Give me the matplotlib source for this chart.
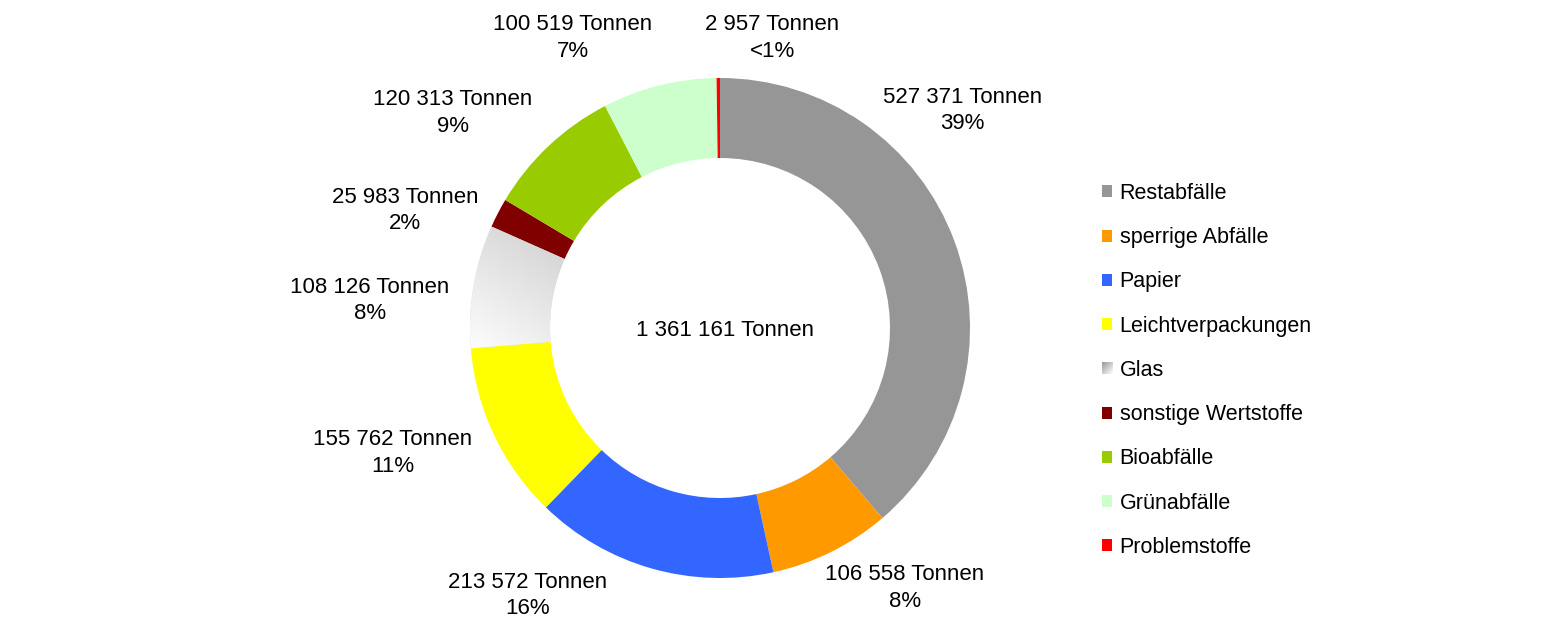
import numpy as np
import matplotlib
matplotlib.use('Agg')
import matplotlib.pyplot as plt
from matplotlib.legend_handler import HandlerBase
from matplotlib.image import BboxImage
from matplotlib.transforms import Bbox, TransformedBbox

kategorien = ['Restabfälle', 'sperrige Abfälle', 'Papier', 'Leichtverpackungen', 'Glas',
              'sonstige Wertstoffe', 'Bioabfälle', 'Grünabfälle', 'Problemstoffe']
tonnen = [527371, 106558, 213572, 155762, 108126, 25983, 120313, 100519, 2957]
prozent = ['39%', '8%', '16%', '11%', '8%', '2%', '9%', '7%', '<1%']
farben = ['#969696', '#ff9900', '#3366ff', '#ffff00', '#d8d8d8',
          '#800000', '#99cc00', '#ccffcc', '#ff0000']
summe_text = '1 361 161 Tonnen'

# Lage der Beschriftungen (Ring-Radius = 1)
label_pos = [(0.97, 0.87), (0.74, -1.04), (-0.77, -1.07), (-1.31, -0.50), (-1.40, 0.11),
             (-1.26, 0.47), (-1.07, 0.86), (-0.59, 1.16), (0.21, 1.16)]

plt.rcParams['font.family'] = ['Liberation Sans', 'DejaVu Sans']

def fmt(v):
    return f'{v:,}'.replace(',', ' ')

XL = (-720 / 250, 823 / 250)
YL = (-297 / 250, 328 / 250)

fig = plt.figure(figsize=(15.43, 6.25), dpi=100)
ax = fig.add_axes([0, 0, 1, 1])
ax.axis('off')

wedges, _ = ax.pie(tonnen, colors=farben, startangle=90, counterclock=False,
                   radius=1, wedgeprops=dict(width=0.32, linewidth=0))

# Verlauf für Glas
n = 256
yy, xx = np.mgrid[0:n, 0:n] / (n - 1)
t = np.clip((xx * 0.5 + (1 - yy) * 0.8) / 1.3, 0, 1)
g = 1.0 - 0.22 * t
verlauf = np.dstack([g, g, g])
glas = wedges[4]
im = ax.imshow(verlauf, extent=[-1.02, -0.5, -0.1, 0.45], origin='upper',
               interpolation='bilinear', zorder=3)
im.set_clip_path(glas)
ax.set_xlim(*XL)
ax.set_ylim(*YL)
ax.set_aspect('auto')

for (x, y), v, p in zip(label_pos, tonnen, prozent):
    ax.text(x, y, fmt(v) + ' Tonnen\n' + p, ha='center', va='center',
            fontsize=16, linespacing=1.32)

ax.text(0.02, -0.01, summe_text, ha='center', va='center', fontsize=16)


class GradientHandler(HandlerBase):
    def create_artists(self, legend, orig_handle, xdescent, ydescent, width, height,
                       fontsize, trans):
        bb = TransformedBbox(Bbox.from_bounds(-xdescent, -ydescent, width, height), trans)
        img = BboxImage(bb, interpolation='bilinear')
        m = 32
        b, a = np.mgrid[0:m, 0:m] / (m - 1)
        s = 0.6 + 0.4 * np.clip((a * 0.6 + b * 0.6) / 1.2, 0, 1)
        img.set_data(np.dstack([s, s, s]))
        return [img]


handler_map = {wedges[4]: GradientHandler()}
fig.legend(wedges, kategorien, loc='center left', bbox_to_anchor=(1102 / 1543, 1 - 370.5 / 625),
           frameon=False, fontsize=15.5, handlelength=0.47, handleheight=0.47,
           handletextpad=0.35, labelspacing=1.08, borderpad=0, borderaxespad=0,
           handler_map=handler_map)

fig.savefig('out.png', dpi=100)
